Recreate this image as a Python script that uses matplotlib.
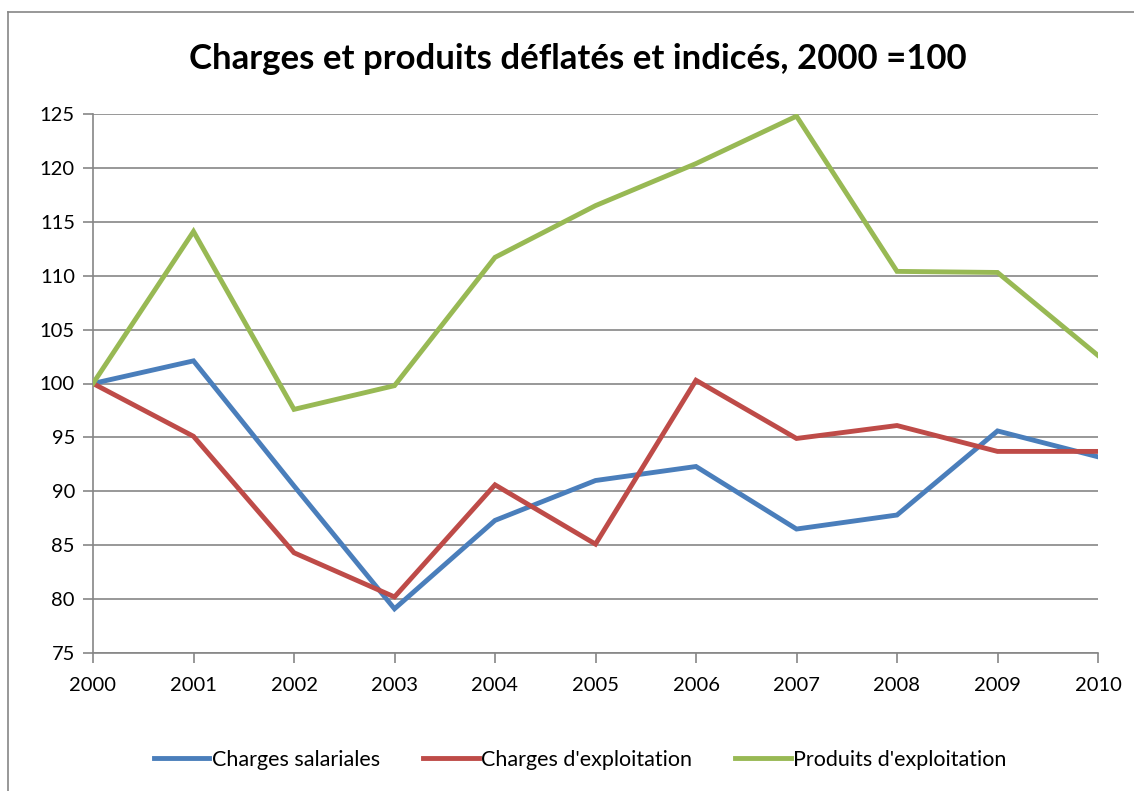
import matplotlib
matplotlib.use("Agg")
import matplotlib.pyplot as plt
from matplotlib.lines import Line2D

plt.rcParams['font.family'] = ['Lato', 'DejaVu Sans']

years = [2000, 2001, 2002, 2003, 2004, 2005, 2006, 2007, 2008, 2009, 2010]
charges_salariales = [100, 102.1, 90.5, 79.1, 87.3, 91.0, 92.3, 86.5, 87.8, 95.6, 93.2]
charges_exploitation = [100, 95.1, 84.3, 80.2, 90.6, 85.1, 100.3, 94.9, 96.1, 93.7, 93.7]
produits_exploitation = [100, 114.1, 97.6, 99.8, 111.7, 116.5, 120.4, 124.8, 110.4, 110.3, 102.6]
y_ticks = [75, 80, 85, 90, 95, 100, 105, 110, 115, 120, 125]

series = [
    ("Charges salariales", charges_salariales, "#4a7ebb"),
    ("Charges d'exploitation", charges_exploitation, "#be4b48"),
    ("Produits d'exploitation", produits_exploitation, "#98b954"),
]

fig = plt.figure(figsize=(11.34, 7.91), dpi=100)
ax = fig.add_axes([93/1134, 1-653/791, (1098-93)/1134, (653-114)/791])

for name, vals, col in series:
    ax.plot(years, vals, color=col, linewidth=3.5, label=name, solid_joinstyle='miter', zorder=3)

ax.set_xlim(2000, 2010)
ax.set_ylim(75, 125)
ax.set_xticks(years)
ax.set_xticklabels([str(y) for y in years])
ax.set_yticks(y_ticks)
ax.set_yticklabels([str(v) for v in y_ticks])
ax.grid(axis='y', color='#868686', linewidth=1.2)
ax.set_axisbelow(True)
for s in ['top', 'right']:
    ax.spines[s].set_visible(False)
for s in ['left', 'bottom']:
    ax.spines[s].set_color('#868686')
    ax.spines[s].set_linewidth(1.2)
ax.tick_params(axis='both', direction='out', length=7, width=1.2, color='#868686',
               labelsize=14.5, pad=6)
ax.tick_params(axis='x', pad=10)

fig.text(578/1134, 1-59/791, "Charges et produits déflatés et indicés, 2000 =100",
         ha='center', va='center', fontsize=25, fontweight='bold')

handles = [Line2D([0], [0], color=c, linewidth=3.5) for _, _, c in series]
fig.legend(handles, [n for n, _, _ in series], loc='center', bbox_to_anchor=(580/1134, 1-760/791),
           ncol=3, frameon=False, fontsize=15.5, handlelength=2.6, handletextpad=0.1, columnspacing=2.0)

# outer chart frame
fig.add_artist(Line2D([8/1134, 8/1134], [0, 1-12/791], transform=fig.transFigure, color='#868686', linewidth=1.2))
fig.add_artist(Line2D([8/1134, 1], [1-12/791, 1-12/791], transform=fig.transFigure, color='#868686', linewidth=1.2))

fig.savefig("out.png", dpi=100)
